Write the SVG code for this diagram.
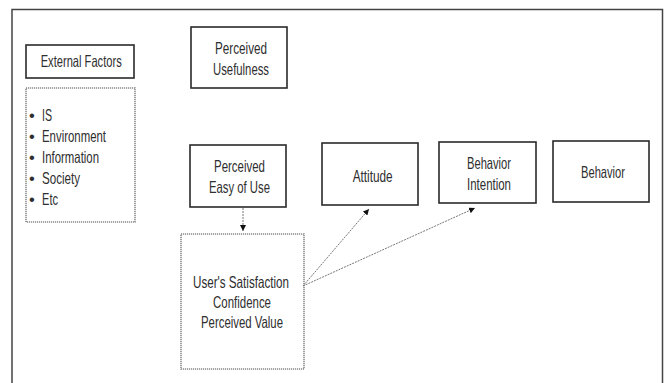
<svg xmlns="http://www.w3.org/2000/svg" width="667" height="383" viewBox="0 0 667 383">
<defs>
<style>
.box{fill:#fff;stroke:#2a2a2a;stroke-width:1.6}
.dbox{fill:#fff;stroke:#8a8a8a;stroke-width:1.6;stroke-dasharray:1.2 0.8}
.t{font-family:"Liberation Sans",Arial,sans-serif;font-size:16.5px;fill:#2e2e2e}
.conn{fill:none;stroke:#777;stroke-width:1;stroke-dasharray:2 1}
</style>
<marker id="ah" viewBox="0 0 10 10" refX="10" refY="5" markerWidth="6" markerHeight="6" markerUnits="userSpaceOnUse" orient="auto">
<path d="M0,0 L10,5 L0,10 z" fill="#111"/>
</marker>
</defs>
<rect width="667" height="383" fill="#fff"/>
<path d="M12,383 V9.5 H662.5 V383" fill="none" stroke="#444" stroke-width="1.5"/>

<g id="external-factors">
<rect class="box" x="26" y="45" width="108" height="33"/>
<text class="t" x="40.7" y="67" textLength="81" lengthAdjust="spacingAndGlyphs">External Factors</text>
</g>
<g id="factor-list">
<rect class="dbox" x="26" y="88" width="109" height="134"/>
<text class="t" x="29" y="121">•</text>
<text class="t" x="42" y="121" textLength="10" lengthAdjust="spacingAndGlyphs">IS</text>
<text class="t" x="29" y="142">•</text>
<text class="t" x="42" y="142" textLength="64" lengthAdjust="spacingAndGlyphs">Environment</text>
<text class="t" x="29" y="163">•</text>
<text class="t" x="42" y="163" textLength="57" lengthAdjust="spacingAndGlyphs">Information</text>
<text class="t" x="29" y="184">•</text>
<text class="t" x="42" y="184" textLength="38" lengthAdjust="spacingAndGlyphs">Society</text>
<text class="t" x="29" y="204.5">•</text>
<text class="t" x="42" y="204.5" textLength="16" lengthAdjust="spacingAndGlyphs">Etc</text>
</g>
<g id="perceived-usefulness">
<rect class="box" x="191" y="27" width="96" height="61"/>
<text class="t" x="215" y="54" textLength="52" lengthAdjust="spacingAndGlyphs">Perceived</text>
<text class="t" x="213" y="75" textLength="56" lengthAdjust="spacingAndGlyphs">Usefulness</text>
</g>
<g id="perceived-ease">
<rect class="box" x="190" y="145" width="96" height="62"/>
<text class="t" x="214" y="172" textLength="51" lengthAdjust="spacingAndGlyphs">Perceived</text>
<text class="t" x="209" y="193" textLength="61" lengthAdjust="spacingAndGlyphs">Easy of Use</text>
</g>
<g id="attitude">
<rect class="box" x="322" y="143" width="96" height="62"/>
<text class="t" x="352.7" y="181.5" textLength="40" lengthAdjust="spacingAndGlyphs">Attitude</text>
</g>
<g id="behavior-intention">
<rect class="box" x="439" y="142" width="97" height="61"/>
<text class="t" x="467" y="169" textLength="44" lengthAdjust="spacingAndGlyphs">Behavior</text>
<text class="t" x="467" y="189.5" textLength="44" lengthAdjust="spacingAndGlyphs">Intention</text>
</g>
<g id="behavior">
<rect class="box" x="553" y="141" width="96" height="61"/>
<text class="t" x="581" y="177.5" textLength="44" lengthAdjust="spacingAndGlyphs">Behavior</text>
</g>
<g id="satisfaction">
<rect class="dbox" x="181" y="234" width="123" height="135"/>
<text class="t" x="193" y="287.5" textLength="96" lengthAdjust="spacingAndGlyphs">User's Satisfaction</text>
<text class="t" x="213" y="307.5" textLength="58" lengthAdjust="spacingAndGlyphs">Confidence</text>
<text class="t" x="201" y="328" textLength="82" lengthAdjust="spacingAndGlyphs">Perceived Value</text>
</g>
<g id="connectors">
<path class="conn" d="M243,208 V231" marker-end="url(#ah)"/>
<path class="conn" d="M303,286 L369,209" marker-end="url(#ah)"/>
<path class="conn" d="M303,286 L475,208" marker-end="url(#ah)"/>
</g>
</svg>
